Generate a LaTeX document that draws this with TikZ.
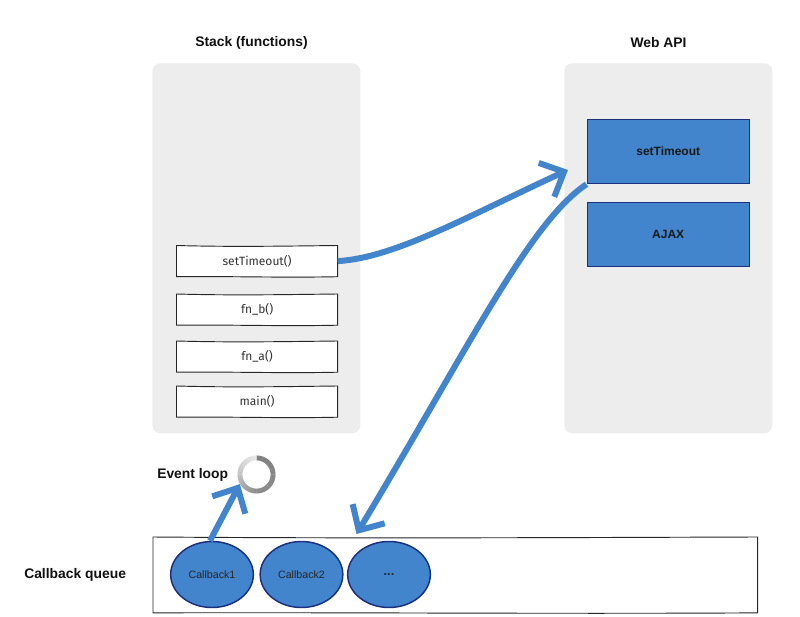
\documentclass[tikz,border=0pt]{standalone}
\usepackage{fontspec}
\setmainfont{Liberation Sans}
\newfontfamily\handfont{Fira Sans}
\usetikzlibrary{arrows.meta,shapes.geometric,calc}
\definecolor{panelgray}{HTML}{EDEDED}
\definecolor{flowblue}{HTML}{4285CC}
\definecolor{edgeblue}{HTML}{1A2F80}
\definecolor{textdark}{HTML}{111111}
\tikzset{
  panel/.style={fill=panelgray,draw=none,rounded corners=6pt,anchor=north west,inner sep=0pt},
  title/.style={font=\bfseries\fontsize{10.4}{12}\selectfont,text=textdark,inner sep=0pt},
  stackbox/.style={fill=white,minimum width=120.5pt,minimum height=23pt,inner sep=0pt,
    font=\handfont\fontsize{9}{11}\selectfont,text=black!80,anchor=north west},
  queuebox/.style={fill=white,inner sep=0pt,minimum width=453pt,minimum height=56.5pt,anchor=north west},
  sketchline/.style={draw=black!85,line width=0.7pt},
  apibox/.style={fill=flowblue,draw=edgeblue,line width=1.1pt,minimum width=121.5pt,minimum height=48pt,
    inner sep=0pt,anchor=north west,font=\bfseries\fontsize{9}{11}\selectfont,text=black!90},
  cbnode/.style={ellipse,fill=flowblue,draw=edgeblue,line width=1.1pt,minimum width=62pt,minimum height=49.5pt,
    inner sep=0pt,font=\fontsize{8}{10}\selectfont,text=black!85},
  flow/.style={draw=flowblue,line width=4.5pt,-{Straight Barb[length=14.5pt,width=28pt,line width=4.5pt]}}
}
\newcommand{\sketchrect}[1]{%
  \draw[sketchline] (#1.north west) .. controls ($(#1.north west)!0.35!(#1.north east)+(0,-1.2pt)$) and ($(#1.north west)!0.7!(#1.north east)+(0,-0.4pt)$) .. (#1.north east)
    -- (#1.south east)
    .. controls ($(#1.south east)!0.35!(#1.south west)+(0,-0.9pt)$) and ($(#1.south east)!0.7!(#1.south west)+(0,0.5pt)$) .. (#1.south west) -- cycle;}
\begin{document}
\begin{tikzpicture}[x=0.75pt,y=-0.75pt]
\useasboundingbox (0,0) rectangle (800,617);
\fill[white] (0,0) rectangle (800,617);
\node[panel,minimum width=156pt,minimum height=277.5pt] (stack) at (152,63) {};
\node[panel,minimum width=156pt,minimum height=277.5pt] (web) at (564,63) {};
\node[title] (stacktitle) at (251.5,43) {Stack (functions)};
\node[title] (webtitle) at (658.5,43) {Web API};
\node[stackbox] (s1) at (176.5,245.5) {setTimeout()}; \sketchrect{s1}
\node[stackbox] (s2) at (176.5,294) {fn\_b()}; \sketchrect{s2}
\node[stackbox] (s3) at (176.5,341) {fn\_a()}; \sketchrect{s3}
\node[stackbox] (s4) at (176.5,386) {main()}; \sketchrect{s4}
\node[apibox] (api1) at (586.5,118.8) {setTimeout};
\node[apibox] (api2) at (586.5,202) {AJAX};
\node[queuebox] (queue) at (153,537) {};
\sketchrect{queue}
\node[cbnode] (cb1) at (212,574.5) {Callback1};
\node[cbnode] (cb2) at (301.5,574.5) {Callback2};
\node[cbnode] (cb3) at (389,574.5) {\fontsize{9.5}{10}\selectfont\textbf{...}};
\node[title,anchor=west] (evt) at (157,475) {Event loop};
\node[title,anchor=west] (cbq) at (24,575) {Callback queue};
\node[circle,minimum size=28.5pt,inner sep=0pt] (ring) at (256.5,474.5) {};
\foreach \a in {0,5,...,355}{
  % \a runs clockwise from the top of the ring
  \pgfmathsetmacro{\g}{\a<=180 ? 50+\a*0.03 : (\a<=270 ? 55+(\a-180)*0.24 : 77+(\a-270)*0.17)}
  \pgfmathsetmacro{\gg}{100-\g}
  \pgfmathsetmacro{\sa}{90-\a+0.6}
  \pgfmathsetmacro{\ea}{90-\a-5.6}
  \fill[black!\gg!white] ($(ring.center)+(\sa:14.25pt)$) arc[start angle=\sa,end angle=\ea,radius=14.25pt]
    -- ($(ring.center)+(\ea:10.6pt)$) arc[start angle=\ea,end angle=\sa,radius=10.6pt] -- cycle;
}
\coordinate (qin) at (356.5,534);
\coordinate (webin) at (568,170);
\draw[flow] (s1.east) .. controls (395,258) and (470,215) .. (webin);
\draw[flow] (api1.south west) .. controls (530,222) and (470,345) .. (qin);
\draw[flow] ($(cb1.north)+(-2,0)$) -- (ring.210);
\end{tikzpicture}
\end{document}
